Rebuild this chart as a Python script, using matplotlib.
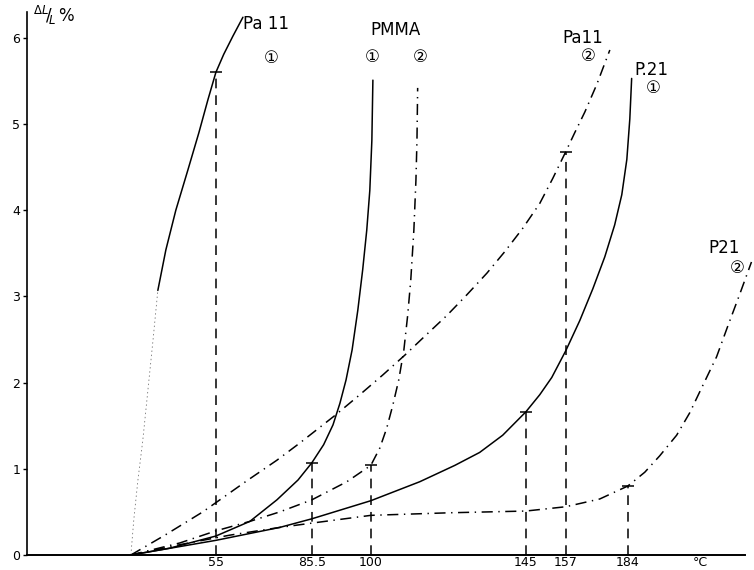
import numpy as np
import matplotlib.pyplot as plt

plt.rcParams['lines.scale_dashes'] = False

# the temperature axis of the drawing is not to scale: temps and where they sit
t_knots = [-30, 20, 55, 85.5, 100, 145, 157, 184, 260]
u_knots = [9.6, 131, 216, 312, 371, 526, 566, 628, 802.5]

def fwd(t):
    return np.interp(t, t_knots, u_knots)

def inv(u):
    return np.interp(u, u_knots, t_knots)

# curves, temperature (degC) vs dL/L (%)
pa11_1_t = [20, 21.2, 22.9, 24.9, 27.0, 29.1, 31.1, 34.4, 38.5, 43.5, 48.0, 51.7, 55, 57.5, 60.4, 63.6]
pa11_1_v = [0, 0.41, 0.87, 1.33, 1.91, 2.49, 3.07, 3.54, 4.00, 4.47, 4.90, 5.28, 5.60, 5.81, 6.02, 6.24]

pa11_2_t = [20, 34.0, 49.6, 64.8, 74.4, 81.7, 91.2, 97.3, 103.5, 109.9, 115.7, 122.1, 127.9,
            133.7, 138.9, 144.1, 149.2, 153.1, 157, 160.9, 165.3, 170.5, 176.2]
pa11_2_v = [0, 0.23, 0.50, 0.86, 1.10, 1.30, 1.62, 1.86, 2.09, 2.32, 2.54, 2.78, 3.02,
            3.27, 3.52, 3.79, 4.08, 4.37, 4.68, 4.90, 5.14, 5.46, 5.86]

pmma_1_t = [20, 36.1, 55, 65.8, 74.4, 81.1, 85.5, 88.4, 90.7, 92.4, 93.9, 95.4, 96.8, 98.0,
            99.0, 99.75, 100.3, 100.6]
pmma_1_v = [0, 0.08, 0.22, 0.39, 0.64, 0.87, 1.07, 1.28, 1.51, 1.76, 2.03, 2.38, 2.84, 3.31,
            3.77, 4.23, 4.81, 5.51]

pmma_2_t = [20, 40.2, 55, 65.8, 75.3, 85.5, 94.1, 100, 102.6, 104.6, 106.4, 108.1, 109.6,
            110.7, 111.6, 112.5, 113.1, 113.4, 113.6]
pmma_2_v = [0, 0.14, 0.28, 0.39, 0.50, 0.64, 0.85, 1.04, 1.24, 1.47, 1.74, 2.03, 2.38,
            2.78, 3.19, 3.77, 4.35, 4.81, 5.42]

p21_1_t = [20, 55, 75.3, 85.5, 100, 114.2, 124.4, 131.6, 138.3, 145, 149.2, 152.8, 157,
           163.1, 168.8, 174.0, 178.3, 181.4, 183.6, 184.9, 185.7]
p21_1_v = [0, 0.17, 0.32, 0.42, 0.63, 0.85, 1.04, 1.19, 1.39, 1.66, 1.86, 2.06, 2.37,
           2.72, 3.09, 3.46, 3.83, 4.18, 4.59, 5.06, 5.53]

p21_2_t = [20, 40.2, 59.4, 75.3, 85.5, 100, 122.9, 145, 157, 171.8, 184, 191.4, 197.9,
           205.3, 211.0, 215.3, 222.7, 227.5, 232.7, 237.9]
p21_2_v = [0, 0.12, 0.23, 0.32, 0.37, 0.46, 0.49, 0.51, 0.56, 0.65, 0.80, 0.96, 1.15,
           1.39, 1.65, 1.89, 2.30, 2.65, 3.02, 3.40]

# softening points marked on the curves
drop_t = [55, 85.5, 100, 145, 157, 184]
drop_v = [5.60, 1.07, 1.04, 1.66, 4.68, 0.80]
drop_labels = ['55', '85.5', '100', '145', '157', '184']

fig = plt.figure(figsize=(7.54, 5.70), dpi=100)
ax = fig.add_axes([27/754, 15/570, 727/754, 555/570])
ax.set_xscale('function', functions=(fwd, inv))
ax.set_xlim(-22.8, 239)
ax.set_ylim(0, 6.44)

solid = dict(color='black', lw=1.1, solid_capstyle='round', solid_joinstyle='round')
dashdot = dict(color='black', lw=1.1, ls=(0, (8, 4, 1, 4)))

ax.plot(pa11_1_t[:7], pa11_1_v[:7], color='0.45', lw=0.6, ls=(0, (1, 2)))
ax.plot(pa11_1_t[6:], pa11_1_v[6:], **solid)
ax.plot(pmma_1_t, pmma_1_v, **solid)
ax.plot(p21_1_t, p21_1_v, **solid)
ax.plot(pa11_2_t, pa11_2_v, **dashdot)
ax.plot(pmma_2_t, pmma_2_v, **dashdot)
ax.plot(p21_2_t, p21_2_v, **dashdot)

ax.vlines(drop_t, 0, drop_v, colors='black', lw=1.1, linestyles=[(0, (7, 5))])
ax.plot(drop_t, drop_v, ls='none', marker='_', ms=8, mew=1.1, color='black')

for s in ['top', 'right']:
    ax.spines[s].set_visible(False)
ax.spines['left'].set_bounds(0, 6.3)
ax.spines['bottom'].set_bounds(-22.8, 235)
ax.spines['left'].set_linewidth(1.2)
ax.spines['bottom'].set_linewidth(1.4)

ax.set_yticks(range(7))
ax.tick_params(axis='y', direction='out', length=3, width=1, labelsize=9, pad=2)
ax.set_xticks(drop_t)
ax.set_xticklabels(drop_labels)
ax.tick_params(axis='x', length=0, labelsize=9, pad=1)

ax.text(215.4, -0.09, '°C', ha='center', va='center', fontsize=9)
ax.text(-20.4, 6.26, r'$^{\Delta L}\!/\!_{L}\,\%$', ha='left', va='center', fontsize=12)

fam = ['DejaVu Sans', 'Noto Sans CJK JP']
labels = [
    (70.9, 6.16, 'Pa 11'), (72.5, 5.77, '①'),
    (107.3, 6.09, 'PMMA'), (100.3, 5.78, '①'), (114.2, 5.78, '②'),
    (164.4, 6.00, 'Pa11'), (166.6, 5.79, '②'),
    (194.5, 5.63, 'P.21'), (194.9, 5.42, '①'),
    (225.8, 3.56, 'P21'), (231.5, 3.33, '②'),
]
for t, v, s in labels:
    ax.text(t, v, s, ha='center', va='center', fontsize=12, family=fam)

fig.savefig('out.png', dpi=100)
